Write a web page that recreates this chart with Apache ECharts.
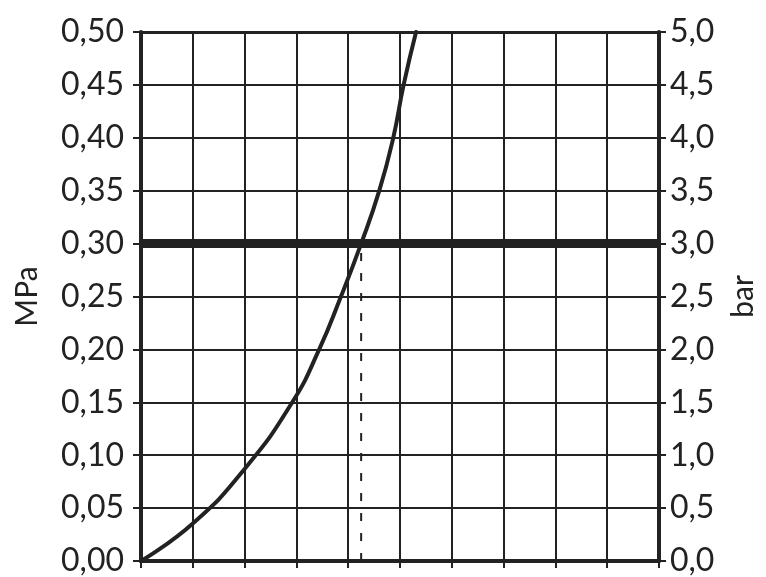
<!DOCTYPE html>
<html>
<head>
<meta charset="utf-8">
<script src="https://cdn.jsdelivr.net/npm/echarts@6/dist/echarts.min.js"></script>
<style>
html,body{margin:0;padding:0;background:#fff;}
#chart{width:766px;height:577px;}
</style>
</head>
<body>
<div id="chart"></div>
<script>
// Curve: x position in grid units (0..10), pressure in MPa
const curveX = [0, 1, 2, 2.92, 3.44, 3.86, 4.25, 4.6, 4.87, 5.07, 5.31];
const curveMPa = [0, 0.0355, 0.087, 0.15, 0.20, 0.25, 0.30, 0.35, 0.40, 0.45, 0.50];
const thresholdMPa = 0.30;
const intersectX = 4.25;
const leftTicks = [0, 0.05, 0.10, 0.15, 0.20, 0.25, 0.30, 0.35, 0.40, 0.45, 0.50];
const rightTicks = [0, 0.5, 1.0, 1.5, 2.0, 2.5, 3.0, 3.5, 4.0, 4.5, 5.0];
const leftName = 'MPa';
const rightName = 'bar';

const ink = '#222';
const font = 'Lato, "Noto Sans", sans-serif';
const curveData = curveX.map((x, i) => [x, curveMPa[i]]);

const chart = echarts.init(document.getElementById('chart'), null, {renderer: 'canvas'});
chart.setOption({
  animation: false,
  backgroundColor: '#fff',
  grid: {left: 141, right: 100, top: 32, bottom: 14, containLabel: false},
  xAxis: [{
    type: 'value', min: 0, max: 10, interval: 1, position: 'bottom',
    axisLine: {show: true, lineStyle: {color: ink, width: 4}},
    axisTick: {show: true, inside: false, length: 7, lineStyle: {color: ink, width: 2}},
    axisLabel: {show: false},
    splitLine: {show: true, lineStyle: {color: ink, width: 2}}
  }, {
    type: 'value', min: 0, max: 10, interval: 1, position: 'top',
    axisLine: {show: true, onZero: false, lineStyle: {color: ink, width: 3}},
    axisTick: {show: false}, axisLabel: {show: false}, splitLine: {show: false}
  }],
  yAxis: [{
    type: 'value', min: leftTicks[0], max: leftTicks[leftTicks.length - 1], interval: 0.05, position: 'left',
    name: leftName, nameLocation: 'middle', nameRotate: 90, nameGap: 99,
    nameTextStyle: {color: ink, fontSize: 30, fontFamily: font},
    axisLine: {show: true, onZero: false, lineStyle: {color: ink, width: 4}},
    axisTick: {show: true, length: 8, lineStyle: {color: ink, width: 2}},
    axisLabel: {color: ink, fontSize: 32, fontFamily: font, margin: 17, padding: [0, 0, 8, 0],
      formatter: v => v.toFixed(2).replace('.', ',')},
    splitLine: {show: true, lineStyle: {color: ink, width: 2}}
  }, {
    type: 'value', min: rightTicks[0], max: rightTicks[rightTicks.length - 1], interval: 0.5, position: 'right',
    name: rightName, nameLocation: 'middle', nameRotate: 90, nameGap: 69,
    nameTextStyle: {color: ink, fontSize: 30, fontFamily: font},
    axisLine: {show: true, onZero: false, lineStyle: {color: ink, width: 4}},
    axisTick: {show: true, length: 7, lineStyle: {color: ink, width: 2}},
    axisLabel: {color: ink, fontSize: 32, fontFamily: font, margin: 11, padding: [0, 0, 8, 0],
      formatter: v => v.toFixed(1).replace('.', ',')},
    splitLine: {show: false}
  }],
  series: [{
    type: 'line', xAxisIndex: 0, yAxisIndex: 0, data: [[0, thresholdMPa], [10, thresholdMPa]],
    showSymbol: false, lineStyle: {color: ink, width: 9}, z: 3
  }, {
    type: 'line', xAxisIndex: 0, yAxisIndex: 0, data: [[intersectX, 0], [intersectX, thresholdMPa]],
    showSymbol: false, lineStyle: {color: ink, width: 2, type: [8, 12]}, z: 3
  }, {
    type: 'line', xAxisIndex: 0, yAxisIndex: 0, data: curveData, smooth: 0.5,
    showSymbol: false, lineStyle: {color: ink, width: 4, cap: 'round'}, z: 4
  }]
});
</script>
</body>
</html>
